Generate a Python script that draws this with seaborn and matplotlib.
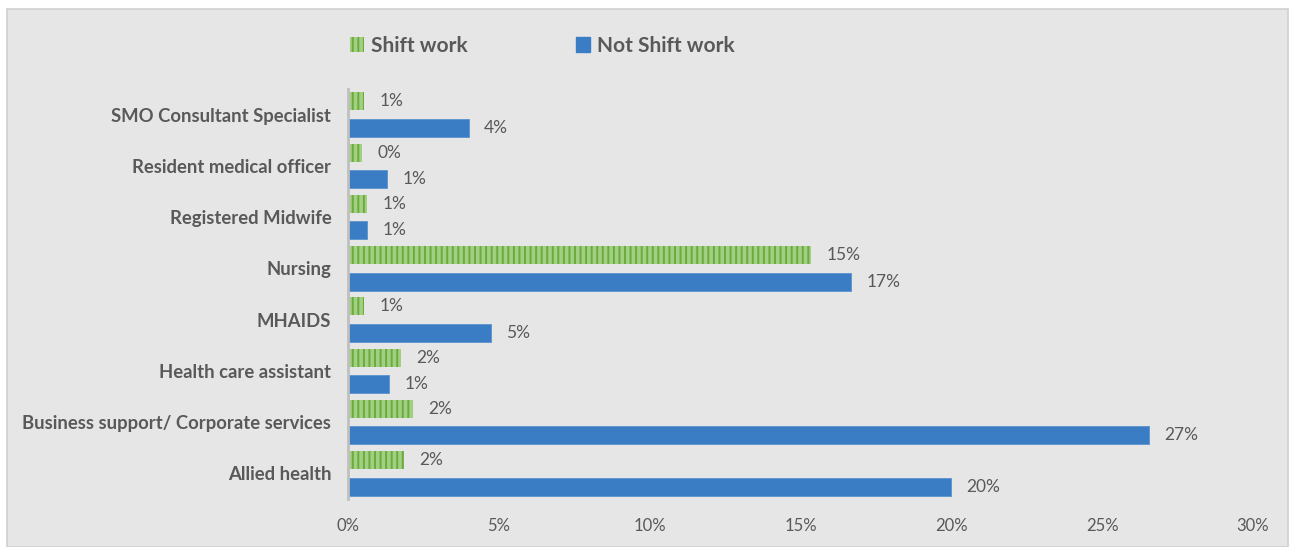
import matplotlib
matplotlib.use("Agg")
import matplotlib.pyplot as plt
import seaborn as sns
import pandas as pd
from matplotlib.patches import Rectangle, Patch
from matplotlib.ticker import FuncFormatter

categories = ["SMO Consultant Specialist", "Resident medical officer", "Registered Midwife",
              "Nursing", "MHAIDS", "Health care assistant",
              "Business support/ Corporate services", "Allied health"]
series = ["Shift work", "Not Shift work"]
shift_work = [0.53, 0.46, 0.63, 15.35, 0.53, 1.76, 2.15, 1.86]
not_shift_work = [4.0, 1.29, 0.63, 16.67, 4.74, 1.36, 26.55, 20.0]
x_ticks = [0, 5, 10, 15, 20, 25, 30]

green_face = "#A3CF83"
green_edge = "#6AAB3E"
blue = "#3B7DC4"
text_col = "#595959"
bg = "#E6E6E6"

df = pd.DataFrame({
    "category": categories * 2,
    "series": [series[0]] * len(categories) + [series[1]] * len(categories),
    "value": shift_work + not_shift_work,
})

sns.set_theme(style="white")
plt.rcParams["font.family"] = ["Lato", "DejaVu Sans"]
plt.rcParams["hatch.linewidth"] = 1.4

fig = plt.figure(figsize=(12.95, 5.47), dpi=100)
fig.patch.set_facecolor("white")
fig.patches.append(Rectangle((7 / 1295, 0), (1288 - 7) / 1295, 1 - 9 / 547,
                             transform=fig.transFigure, facecolor=bg,
                             edgecolor="#D0D0D0", linewidth=1.2, zorder=-10))

ax = fig.add_axes([348 / 1295, 1 - 499 / 547, (1253 - 348) / 1295, (499 - 89) / 547])
ax.set_facecolor(bg)
ax.patch.set_alpha(0)

sns.barplot(data=df, y="category", x="value", hue="series", order=categories,
            hue_order=series, palette=[green_face, blue], orient="h",
            width=1.034, gap=0.32, ax=ax, legend=False, saturation=1)

n = len(categories)
for i, bar in enumerate(ax.patches[:2 * n]):
    if i < n:
        bar.set_hatch("|||")
        bar.set_edgecolor(green_edge)
        bar.set_linewidth(0)
    else:
        bar.set_edgecolor("#5A93D0")
        bar.set_linewidth(0.6)

for cont in ax.containers:
    ax.bar_label(cont, labels=[f"{v:.0f}%" for v in cont.datavalues],
                 padding=11, fontsize=12.5, color=text_col)

ax.set_xlim(0, 30)
ax.set_ylim(n - 0.5, -0.5)
ax.set_xticks(x_ticks)
ax.xaxis.set_major_formatter(FuncFormatter(lambda v, p: f"{v:.0f}%"))
ax.tick_params(axis="x", length=0, pad=14, labelsize=12, labelcolor=text_col)
ax.tick_params(axis="y", length=0, pad=12, labelsize=13.3, labelcolor=text_col)
for lbl in ax.get_yticklabels():
    lbl.set_fontweight("bold")
ax.set_xlabel("")
ax.set_ylabel("")
for s in ["top", "right", "bottom"]:
    ax.spines[s].set_visible(False)
ax.spines["left"].set_color("#BFBFBF")
ax.spines["left"].set_linewidth(2)

handles = [Patch(facecolor=green_face, edgecolor=green_edge, hatch="|||", linewidth=0),
           Patch(facecolor=blue, edgecolor=blue)]
leg = fig.legend(handles, series, loc="center left", bbox_to_anchor=(331 / 1295, 1 - 46 / 547),
                 ncol=2, frameon=False, fontsize=15, handlelength=0.7, handleheight=0.7,
                 handletextpad=0.3, columnspacing=5.2)
for t in leg.get_texts():
    t.set_color(text_col)
    t.set_fontweight("bold")

fig.savefig("out.png", dpi=100, facecolor=fig.get_facecolor())
